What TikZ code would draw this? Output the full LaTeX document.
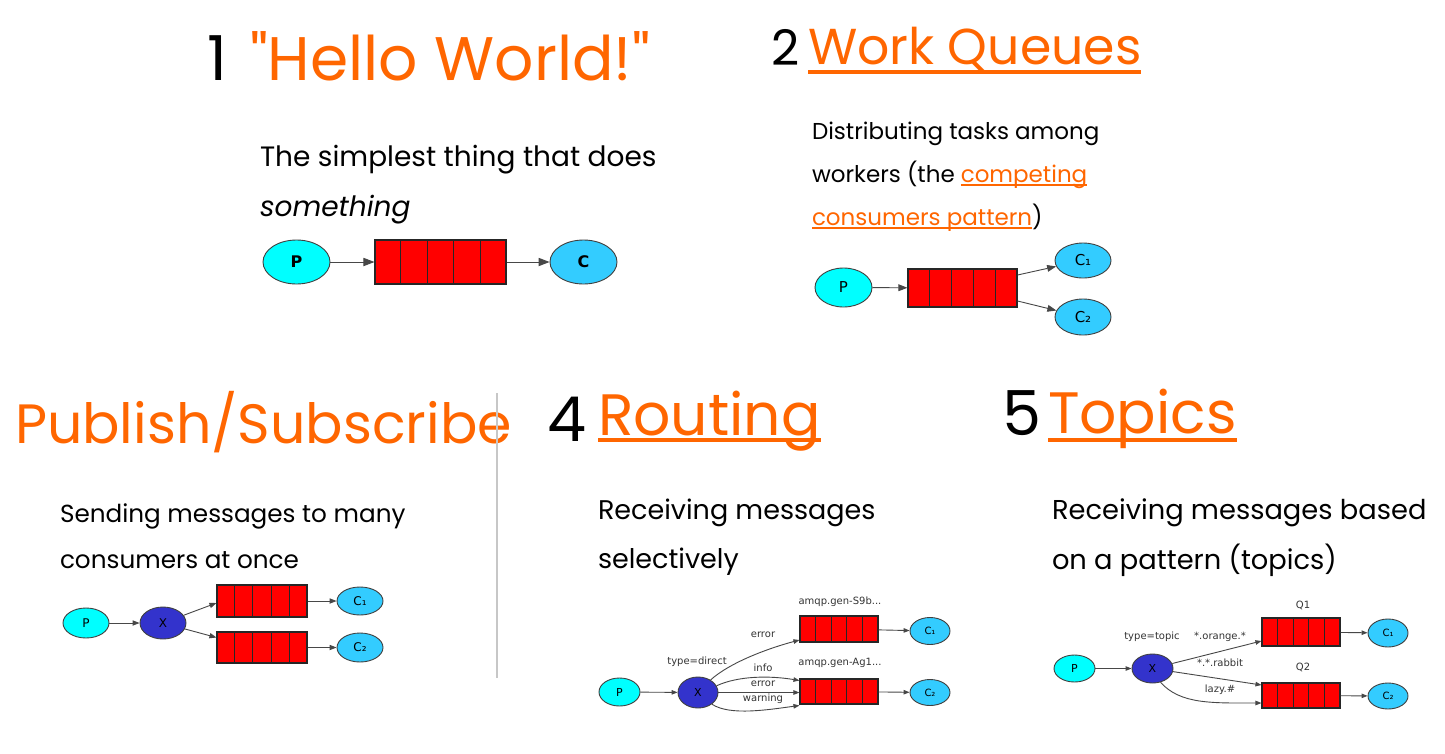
\documentclass[tikz,border=0pt]{standalone}
\usepackage{fontspec}
\setmainfont{Poppins}[Ligatures=TeXOff]
\newfontfamily\dv{DejaVu Sans}
\usetikzlibrary{shapes.geometric,calc,arrows.meta}
\definecolor{org}{HTML}{FF6600}
\definecolor{pcol}{HTML}{00FFFF}
\definecolor{ccol}{HTML}{33CCFF}
\definecolor{xcol}{HTML}{3333CC}
\definecolor{qred}{HTML}{FF0000}
\newcommand{\fs}[1]{\fontsize{#1}{#1}\selectfont}
\newcommand{\mkqueue}[5]{%
  \node[qbox, minimum width={#4-#2}, minimum height={#5-#3}] (#1) at ({(#2+#4)/2},{(#3+#5)/2}) {};
  \foreach \i in {1,2,3,4}{\draw[qdiv] ($(#1.north west)!\i/5!(#1.north east)$) -- ($(#1.south west)!\i/5!(#1.south east)$);}
}
\begin{document}
\begin{tikzpicture}[x=1pt,y=-1pt,
  txt/.style={anchor=base west, inner sep=0pt, outer sep=0pt},
  el/.style={ellipse, draw=black!75, line width=0.9pt, inner sep=0pt, text=black},
  sz/.style 2 args={minimum width=#1pt, minimum height=#2pt},
  pn/.style={el, fill=pcol},
  cn/.style={el, fill=ccol},
  xn/.style={el, fill=xcol},
  qbox/.style={draw=black!85, fill=qred, line width=1.1pt, inner sep=0pt},
  qdiv/.style={draw=black!85, line width=1.1pt},
  edge/.style={draw=black!72, line width=0.9pt, -{Triangle[length=#1pt, width'=0pt 0.75]}},
  edge/.default=7,
  ul/.style={draw=org, line width=3.5pt},
  ulthin/.style={draw=org, line width=1.5pt},
  sep/.style={draw=black!22, line width=1.5pt},
  lbl/.style={font=\dv\fs{10}, text=black!80, inner sep=0pt}
]
\useasboundingbox (0,0) rectangle (1445,753);
\fill[white] (0,0) rectangle (1445,753);

% ---------- 1 Hello World
\node[txt, font=\fs{62}] (n1) at (207,80) {1};
\node[txt, font=\fs{61.5}, text=org] (t1) at (250,80) {"Hello World!"};
\node[txt, font=\fs{28}] (d1a) at (260,166) {The simplest thing that does};
\node[txt, font=\fs{28}\itshape] (d1b) at (260,216) {something};
\node[pn, sz={67}{44}, font=\dv\bfseries\fs{16}] (p1) at (296.5,262) {P};
\mkqueue{q1}{375}{240}{506}{284}
\node[cn, sz={67}{44}, font=\dv\bfseries\fs{16}] (c1) at (583.5,262) {C};
\draw[edge=11] (p1) -- (q1);
\draw[edge=11] (q1) -- (c1);

% ---------- 2 Work Queues
\node[txt, font=\fs{49}] (n2) at (771,65) {2};
\node[txt, font=\fs{50.5}, text=org] (t2) at (808,64) {Work Queues};
\draw[ul] ([yshift=-8pt]t2.base west) -- ([yshift=-8pt]t2.base east);
\node[txt, font=\fs{23}] (d2a) at (812,139) {Distributing tasks among};
\node[txt, font=\fs{23}] (d2b) at (812,182) {workers (the};
\node[txt, font=\fs{23}, text=org] (d2c) at ([xshift=6pt]d2b.base east) {competing};
\node[txt, font=\fs{23}, text=org] (d2d) at (812,225) {consumers pattern};
\node[txt, font=\fs{23}] (d2e) at (d2d.base east) {)};
\draw[ulthin] ([yshift=-3pt]d2c.base west) -- ([yshift=-3pt]d2c.base east);
\draw[ulthin] ([yshift=-3pt]d2d.base west) -- ([yshift=-3pt]d2d.base east);
\node[pn, sz={57}{39}, font=\dv\fs{15}] (p2) at (843.5,287.5) {P};
\mkqueue{q2}{908}{269}{1017}{307}
\node[cn, sz={56}{35}, font=\dv\fs{15}] (c21) at (1083,260.5) {C₁};
\node[cn, sz={56}{36}, font=\dv\fs{15}] (c22) at (1083,317) {C₂};
\draw[edge=9] (p2) -- (q2);
\draw[edge=9] ([yshift=13pt]q2.east) -- (c21);
\draw[edge=9] ([yshift=-13pt]q2.east) -- (c22);

% ---------- Publish/Subscribe
\node[txt, font=\fs{55.4}, text=org] (t3) at (15,443) {Publish/Subscribe};
\coordinate (s1) at (497,393);
\coordinate (s2) at (497,678);
\draw[sep] (s1) -- (s2);
\node[txt, font=\fs{24.7}] (d3a) at (60,522) {Sending messages to many};
\node[txt, font=\fs{24.7}] (d3b) at (60,568) {consumers at once};
\node[pn, sz={46}{30}, font=\dv\fs{12}] (p3) at (86,623) {P};
\node[xn, sz={46}{32}, font=\dv\fs{12}] (x3) at (163,623) {X};
\mkqueue{q31}{217}{585}{307}{617}
\mkqueue{q32}{217}{632}{307}{663}
\node[cn, sz={46}{28}, font=\dv\fs{12}] (c31) at (360,601) {C₁};
\node[cn, sz={46}{29}, font=\dv\fs{12}] (c32) at (360,647.5) {C₂};
\draw[edge] (p3) -- (x3);
\draw[edge] (x3) -- ([yshift=-2pt]q31.west);
\draw[edge] (x3) -- ([yshift=10pt]q32.west);
\draw[edge] (q31) -- (c31);
\draw[edge] (q32) -- (c32);

% ---------- 4 Routing
\node[txt, font=\fs{62}] (n4) at (547,441) {4};
\node[txt, font=\fs{58.4}, text=org] (t4) at (598,435) {Routing};
\draw[ul] ([yshift=-5pt]t4.base west) -- ([yshift=-5pt]t4.base east);
\node[txt, font=\fs{27}] (d4a) at (598,519) {Receiving messages};
\node[txt, font=\fs{27}] (d4b) at (598,568) {selectively};
\node[pn, sz={41}{28}, font=\dv\fs{11}] (p4) at (619.5,692) {P};
\node[xn, sz={40}{31}, font=\dv\fs{11}] (x4) at (698,692.5) {X};
\mkqueue{q41}{800}{616}{878}{642}
\mkqueue{q42}{800}{679}{878}{704}
\node[cn, sz={40}{27}, font=\dv\fs{10}] (c41) at (930,631) {C₁};
\node[cn, sz={40}{26}, font=\dv\fs{10}] (c42) at (930,692.5) {C₂};
\node[lbl] (l41) at (840,602) {amqp.gen-S9b...};
\node[lbl] (l42) at (840,663) {amqp.gen-Ag1...};
\node[lbl] (l43) at (697,662) {type=direct};
\node[lbl] (l44) at (763,635) {error};
\node[lbl] (l45) at (763,668) {info};
\node[lbl] (l46) at (763,684) {error};
\node[lbl] (l47) at (763,699) {warning};
\draw[edge=6] (p4) -- (x4);
\draw[edge=6] (x4.45) .. controls +(20,-18) and +(-30,8) .. ([yshift=-11pt]q41.west);
\draw[edge=6] (x4.20) .. controls +(22,-10) and +(-30,-5) .. ([yshift=11pt]q42.west);
\draw[edge=6] (x4.east) -- (x4.east -| q42.west);
\draw[edge=6] (x4.-40) .. controls +(18,12) and +(-30,4) .. ([yshift=-14pt]q42.west);
\draw[edge=6] (q41) -- (c41);
\draw[edge=6] (q42) -- (c42);

% ---------- 5 Topics
\node[txt, font=\fs{62}] (n5) at (1002,435) {5};
\node[txt, font=\fs{58.4}, text=org] (t5) at (1048,433) {Topics};
\draw[ul] ([yshift=-7pt]t5.base west) -- ([yshift=-7pt]t5.base east);
\node[txt, font=\fs{27.3}] (d5a) at (1052,519) {Receiving messages based};
\node[txt, font=\fs{27.3}] (d5b) at (1052,569) {on a pattern (topics)};
\node[pn, sz={41}{27}, font=\dv\fs{11}] (p5) at (1074.5,668.5) {P};
\node[xn, sz={41}{29}, font=\dv\fs{11}] (x5) at (1152.5,668.5) {X};
\mkqueue{q51}{1262}{618}{1340}{646}
\mkqueue{q52}{1262}{683}{1340}{708}
\node[cn, sz={40}{28}, font=\dv\fs{10}] (c51) at (1388,633) {C₁};
\node[cn, sz={40}{26}, font=\dv\fs{10}] (c52) at (1388,696) {C₂};
\node[lbl] (l51) at (1303,605) {Q1};
\node[lbl] (l52) at (1303,667) {Q2};
\node[lbl] (l53) at (1152,637) {type=topic};
\node[lbl] (l54) at (1220,637) {*.orange.*};
\node[lbl] (l55) at (1220,663) {*.*.rabbit};
\node[lbl] (l56) at (1220,690) {lazy.\#};
\draw[edge=6] (p5) -- (x5);
\draw[edge=6] (x5) -- ([yshift=-9pt]q51.west);
\draw[edge=6] (x5) -- ([yshift=10.5pt]q52.west);
\draw[edge=6] (x5.-60) .. controls +(20,22) and +(-50,0) .. ([yshift=-7.5pt]q52.west);
\draw[edge=6] (q51) -- (c51);
\draw[edge=6] (q52) -- (c52);
\end{tikzpicture}
\end{document}
